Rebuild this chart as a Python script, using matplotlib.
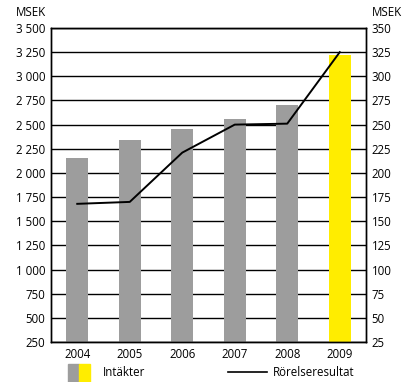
import numpy as np
import matplotlib.pyplot as plt
from matplotlib.patches import Rectangle
from matplotlib.lines import Line2D

plt.rcParams['font.family'] = ['Open Sans', 'DejaVu Sans']

# data
years = ['2004', '2005', '2006', '2007', '2008', '2009']
intakter = [2150, 2340, 2450, 2555, 2700, 3220]
rorelseresultat = [168, 170, 221, 250, 251, 325]
bar_colors = ['#9d9d9d'] * 5 + ['#ffed00']
left_ticks = np.arange(250, 3501, 250)
right_ticks = np.arange(25, 351, 25)

W, H = 403, 382
fs = 8.3
fig = plt.figure(figsize=(W / 100, H / 100), dpi=100)
ax = fig.add_axes([51 / W, 1 - 342 / H, 315 / W, 314 / H])

x = np.arange(len(years))
ax.bar(x, [v - 250 for v in intakter], bottom=250, width=0.42, color=bar_colors, zorder=2)
ax.set_xlim(-0.5, 5.5)
ax.set_ylim(250, 3500)
ax.set_yticks(left_ticks)
ax.set_yticklabels([f'{v:,}'.replace(',', ' ') for v in left_ticks])
ax.set_xticks(x)
ax.set_xticklabels(years)
ax.yaxis.grid(True, color='black', linewidth=1.0, zorder=0)
ax.set_axisbelow(True)
ax.tick_params(length=0, labelsize=fs, pad=4)

ax2 = ax.twinx()
ax2.plot(x, rorelseresultat, color='black', linewidth=1.4, zorder=3)
ax2.set_ylim(25, 350)
ax2.set_yticks(right_ticks)
ax2.tick_params(length=0, labelsize=fs, pad=4)

for a in (ax, ax2):
    for s in a.spines.values():
        s.set_linewidth(1.0)

fig.text(16 / W, 1 - 12 / H, 'MSEK', fontsize=fs, va='center')
fig.text(372 / W, 1 - 12 / H, 'MSEK', fontsize=fs, va='center')

# legend
fig.patches.append(Rectangle((68 / W, 0), 11 / W, 18 / H, transform=fig.transFigure, color='#9d9d9d'))
fig.patches.append(Rectangle((79 / W, 0), 11 / W, 18 / H, transform=fig.transFigure, color='#ffed00'))
fig.text(103 / W, 1 - 373 / H, 'Intäkter', fontsize=fs, va='center')
fig.lines.append(Line2D([228 / W, 267 / W], [1 - 372 / H] * 2, transform=fig.transFigure, color='black', linewidth=1.2))
fig.text(273 / W, 1 - 372 / H, 'Rörelseresultat', fontsize=fs, va='center')

fig.savefig('out.png', dpi=100)
